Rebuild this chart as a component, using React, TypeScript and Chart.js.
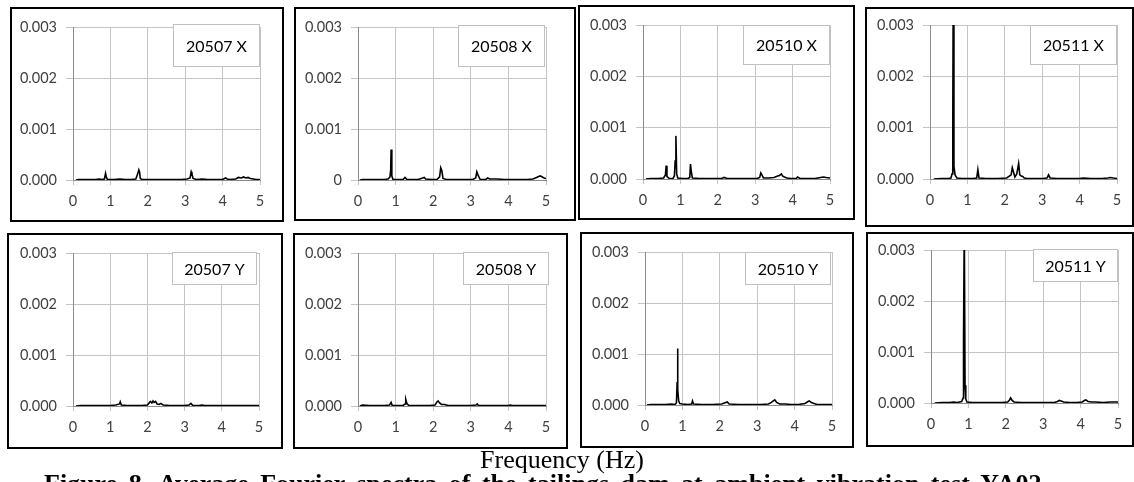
import { useEffect, useRef } from "react";
import { Chart, registerables } from "chart.js";

Chart.register(...registerables);

// ---------- axis ticks ----------
const xTickValues = [0, 1, 2, 3, 4, 5];
const xTickLabels = ["0", "1", "2", "3", "4", "5"];
// amplitudes are written in units of 1e-5 (so 100 = 0.001)
const yTickValues = [0, 100, 200, 300];
const yTickLabels = ["0.000", "0.001", "0.002", "0.003"];
const yTickLabelsAlt = ["0", "0.001", "0.002", "0.003"];

const panelLabels = ["20507 X", "20508 X", "20510 X", "20511 X", "20507 Y", "20508 Y", "20510 Y", "20511 Y"];

// ---------- spectra (frequency Hz, amplitude ×1e-5) ----------
const freq20507X = [0.08, 0.15, 0.3, 0.45, 0.6, 0.7, 0.78, 0.84, 0.87, 0.89, 0.92, 1.0, 1.1, 1.25, 1.4, 1.55, 1.68, 1.73, 1.76, 1.78, 1.8, 1.84, 1.95, 2.1, 2.3, 2.5, 2.7, 2.9, 3.05, 3.13, 3.16, 3.18, 3.21, 3.3, 3.45, 3.6, 3.8, 4.0, 4.08, 4.12, 4.2, 4.35, 4.42, 4.5, 4.56, 4.62, 4.68, 4.74, 4.82, 4.9, 5.0];
const amp20507X = [0, 1, 1, 1, 1, 2, 1, 2, 13, 6, 1, 1, 1, 2, 1, 1, 2, 12, 20, 16, 3, 1, 1, 1, 1, 1, 1, 1, 2, 4, 16, 12, 3, 1, 2, 1, 1, 1, 4, 2, 1, 2, 5, 4, 6, 4, 5, 3, 2, 1, 1];

const freq20508X = [0.05, 0.12, 0.3, 0.5, 0.7, 0.8, 0.85, 0.87, 0.88, 0.9, 0.93, 1.05, 1.2, 1.25, 1.3, 1.45, 1.6, 1.72, 1.76, 1.8, 1.95, 2.1, 2.17, 2.2, 2.23, 2.26, 2.35, 2.5, 2.7, 2.9, 3.05, 3.13, 3.16, 3.19, 3.25, 3.4, 3.45, 3.5, 3.7, 3.9, 4.1, 4.3, 4.5, 4.65, 4.75, 4.8, 4.85, 4.9, 4.95, 5.0];
const amp20508X = [0, 1, 1, 1, 1, 2, 6, 20, 60, 8, 1, 1, 1, 5, 1, 1, 1, 4, 5, 2, 1, 1, 6, 24, 18, 3, 1, 1, 1, 1, 1, 4, 16, 10, 1, 1, 4, 2, 2, 1, 1, 1, 1, 2, 5, 7, 8, 6, 4, 3];

const freq20510X = [0.08, 0.2, 0.4, 0.55, 0.6, 0.62, 0.64, 0.7, 0.8, 0.84, 0.86, 0.88, 0.9, 0.93, 1.05, 1.2, 1.25, 1.27, 1.29, 1.32, 1.5, 1.8, 2.1, 2.17, 2.25, 2.5, 2.8, 3.05, 3.12, 3.15, 3.18, 3.22, 3.35, 3.5, 3.6, 3.65, 3.7, 3.73, 3.78, 3.85, 3.95, 4.1, 4.13, 4.2, 4.4, 4.6, 4.75, 4.82, 4.9, 5.0];
const amp20510X = [0, 1, 1, 2, 8, 26, 5, 1, 1, 6, 35, 84, 10, 2, 1, 1, 3, 29, 15, 2, 1, 1, 1, 3, 1, 1, 1, 1, 3, 12, 8, 2, 2, 3, 6, 7, 10, 6, 4, 2, 1, 1, 4, 1, 1, 1, 3, 4, 3, 2];

const freq20511X = [0.1, 0.3, 0.5, 0.56, 0.59, 0.61, 0.62, 0.64, 0.67, 0.72, 0.85, 1.0, 1.15, 1.25, 1.28, 1.31, 1.5, 1.8, 2.05, 2.17, 2.2, 2.23, 2.27, 2.32, 2.35, 2.37, 2.4, 2.44, 2.48, 2.52, 2.6, 2.8, 3.0, 3.13, 3.17, 3.21, 3.4, 3.7, 4.0, 4.1, 4.3, 4.6, 4.75, 4.82, 4.9, 5.0];
const amp20511X = [0, 1, 1, 2, 10, 120, 350, 25, 8, 2, 1, 1, 1, 2, 18, 2, 1, 1, 2, 8, 22, 14, 4, 10, 22, 30, 8, 6, 5, 2, 1, 1, 1, 2, 8, 2, 1, 1, 1, 2, 1, 1, 2, 3, 2, 1];

const freq20507Y = [0.08, 0.2, 0.4, 0.6, 0.8, 1.0, 1.15, 1.25, 1.27, 1.3, 1.45, 1.65, 1.85, 2.0, 2.08, 2.12, 2.15, 2.18, 2.22, 2.26, 2.32, 2.36, 2.42, 2.6, 2.8, 3.0, 3.12, 3.17, 3.22, 3.4, 3.46, 3.55, 3.8, 4.0, 4.2, 4.4, 4.6, 4.8, 5.0];
const amp20507Y = [0, 1, 1, 1, 1, 1, 2, 4, 8, 2, 1, 1, 1, 2, 9, 6, 10, 7, 9, 4, 3, 5, 2, 1, 1, 1, 2, 5, 1, 1, 2, 1, 1, 1, 1, 1, 1, 1, 1];

const freq20508Y = [0.05, 0.12, 0.3, 0.5, 0.7, 0.84, 0.88, 0.91, 1.05, 1.2, 1.25, 1.27, 1.3, 1.35, 1.5, 1.7, 1.9, 2.05, 2.1, 2.13, 2.17, 2.22, 2.3, 2.4, 2.6, 2.8, 3.0, 3.14, 3.17, 3.2, 3.4, 3.6, 3.8, 4.0, 4.05, 4.1, 4.3, 4.5, 4.7, 5.0];
const amp20508Y = [0, 2, 1, 1, 1, 2, 7, 1, 1, 1, 4, 13, 5, 1, 1, 1, 1, 2, 8, 10, 6, 3, 3, 1, 1, 1, 1, 2, 4, 1, 1, 1, 1, 1, 2, 1, 1, 1, 1, 1];

const freq20510Y = [0.05, 0.15, 0.35, 0.55, 0.7, 0.8, 0.84, 0.86, 0.87, 0.88, 0.9, 0.93, 1.0, 1.15, 1.25, 1.27, 1.3, 1.5, 1.8, 2.05, 2.2, 2.25, 2.5, 2.8, 3.1, 3.3, 3.38, 3.43, 3.47, 3.52, 3.6, 3.75, 3.9, 4.1, 4.28, 4.34, 4.39, 4.45, 4.52, 4.6, 4.8, 5.0];
const amp20510Y = [0, 1, 1, 1, 2, 1, 4, 45, 111, 30, 8, 3, 2, 1, 2, 8, 2, 1, 1, 2, 6, 2, 1, 1, 1, 2, 5, 8, 10, 5, 2, 2, 1, 1, 3, 6, 8, 5, 3, 1, 1, 1];

const freq20511Y = [0.1, 0.3, 0.5, 0.6, 0.7, 0.82, 0.86, 0.87, 0.89, 0.91, 0.93, 0.96, 1.1, 1.3, 1.6, 1.9, 2.05, 2.1, 2.13, 2.17, 2.22, 2.4, 2.7, 3.0, 3.3, 3.38, 3.43, 3.48, 3.55, 3.7, 3.9, 4.05, 4.1, 4.14, 4.2, 4.3, 4.4, 4.6, 4.8, 4.9, 5.0];
const amp20511Y = [0, 1, 1, 2, 1, 3, 10, 130, 350, 35, 8, 2, 1, 1, 1, 1, 2, 6, 10, 5, 2, 1, 1, 1, 1, 3, 5, 4, 2, 1, 1, 2, 5, 6, 3, 2, 2, 1, 2, 2, 2];

const seriesFreq = [freq20507X, freq20508X, freq20510X, freq20511X, freq20507Y, freq20508Y, freq20510Y, freq20511Y];
const seriesAmp = [amp20507X, amp20508X, amp20510X, amp20511X, amp20507Y, amp20508Y, amp20510Y, amp20511Y];
const seriesYLabels = [yTickLabels, yTickLabelsAlt, yTickLabels, yTickLabels, yTickLabels, yTickLabels, yTickLabels, yTickLabels];

// ---------- layout (page pixels: left, top, right, bottom) ----------
const layouts = [
  { box: [10, 7, 284, 222], plot: [73, 27, 260, 180], tag: [173, 24, 260, 67] },
  { box: [294, 7, 576, 221], plot: [358, 27, 546, 180], tag: [458, 25, 545, 67] },
  { box: [578, 5, 855, 220], plot: [643, 25, 830, 179], tag: [743, 25, 830, 65] },
  { box: [865, 7, 1134, 227], plot: [930, 25, 1117, 179], tag: [1030, 25, 1117, 65] },
  { box: [7, 233, 283, 449], plot: [73, 253, 259, 406], tag: [172, 252, 257, 285] },
  { box: [293, 233, 568, 449], plot: [358, 253, 546, 406], tag: [463, 252, 549, 285] },
  { box: [580, 232, 854, 448], plot: [645, 252, 832, 405], tag: [745, 252, 831, 285] },
  { box: [866, 232, 1134, 447], plot: [931, 250, 1118, 403], tag: [1033, 249, 1118, 282] },
];

const TICK_FONT = { family: "Lato, 'Open Sans', sans-serif", size: 14.5 };
const TICK_COLOR = "#404040";
const GRID_COLOR = "#c4c4c4";

const labelBoxPlugin = {
  id: "labelBox",
  afterDraw(chart: any, _args: any, opts: any) {
    const ctx = chart.ctx;
    ctx.save();
    ctx.fillStyle = "#ffffff";
    ctx.fillRect(opts.x, opts.y, opts.w, opts.h);
    ctx.strokeStyle = "#c0c0c0";
    ctx.lineWidth = 1;
    ctx.strokeRect(opts.x + 0.5, opts.y + 0.5, opts.w - 1, opts.h - 1);
    ctx.fillStyle = "#000";
    ctx.font = "16px Lato, 'Open Sans', sans-serif";
    ctx.textAlign = "center";
    ctx.textBaseline = "middle";
    ctx.fillText(opts.text, opts.x + opts.w / 2, opts.y + opts.h / 2 + 1);
    ctx.restore();
  },
};

function Panel({ idx }: { idx: number }) {
  const ref = useRef<HTMLCanvasElement>(null);
  const L = layouts[idx];
  const [bl, bt, br, bb] = L.box;
  const [pl, pt, pr, pb] = L.plot;
  const [tl, tt, tr, tb] = L.tag;
  const bw = br - bl;
  const bh = bb - bt;

  useEffect(() => {
    if (!ref.current) return;
    const freq = seriesFreq[idx];
    const amp = seriesAmp[idx];
    const yLabels = seriesYLabels[idx];
    const chart = new Chart(ref.current, {
      type: "line",
      data: {
        datasets: [
          {
            data: freq.map((f, i) => ({ x: f, y: amp[i] })),
            borderColor: "#000",
            borderWidth: 1.6,
            pointRadius: 0,
            tension: 0,
            fill: false,
          },
        ],
      },
      options: {
        responsive: false,
        animation: false,
        devicePixelRatio: 1,
        events: [],
        layout: { padding: { left: 0, top: pt - bt, right: br - pr, bottom: 0 } },
        plugins: {
          legend: { display: false },
          tooltip: { enabled: false },
          labelBox: { text: panelLabels[idx], x: tl - bl, y: tt - bt, w: tr - tl, h: tb - tt },
        } as any,
        scales: {
          x: {
            type: "linear",
            min: 0,
            max: 5,
            afterBuildTicks: (s: any) => {
              s.ticks = xTickValues.map((v) => ({ value: v }));
            },
            afterFit: (s: any) => {
              s.height = bb - pb;
            },
            grid: { color: GRID_COLOR, tickLength: 5, lineWidth: 1 },
            border: { color: "#8c8c8c", width: 1 },
            ticks: {
              font: TICK_FONT,
              color: TICK_COLOR,
              padding: 8,
              maxRotation: 0,
              callback: (v: any) => xTickLabels[xTickValues.indexOf(Number(v))] ?? "",
            },
          },
          y: {
            type: "linear",
            min: 0,
            max: 300,
            afterBuildTicks: (s: any) => {
              s.ticks = yTickValues.map((v) => ({ value: v }));
            },
            afterFit: (s: any) => {
              s.width = pl - bl;
            },
            grid: { color: GRID_COLOR, tickLength: 7, lineWidth: 1 },
            border: { color: "#8c8c8c", width: 1 },
            ticks: {
              font: TICK_FONT,
              color: TICK_COLOR,
              padding: 9,
              callback: (v: any) => yLabels[yTickValues.indexOf(Number(v))] ?? "",
            },
          },
        },
      },
      plugins: [labelBoxPlugin],
    } as any);
    return () => chart.destroy();
  }, [idx]);

  return (
    <>
      <canvas
        ref={ref}
        width={bw}
        height={bh}
        style={{ position: "absolute", left: bl, top: bt, width: bw, height: bh }}
      />
      <div
        style={{
          position: "absolute",
          left: bl,
          top: bt,
          width: bw,
          height: bh,
          border: "2px solid #000",
          boxSizing: "border-box",
          pointerEvents: "none",
        }}
      />
    </>
  );
}

export default function App() {
  return (
    <div
      style={{
        position: "absolute",
        left: 0,
        top: 0,
        width: 1134,
        height: 482,
        overflow: "hidden",
        background: "#fff",
      }}
    >
      {layouts.map((_, i) => (
        <Panel key={i} idx={i} />
      ))}
      <div
        style={{
          position: "absolute",
          left: 0,
          top: 447,
          width: 1124,
          textAlign: "center",
          fontFamily: "'Liberation Serif', 'Times New Roman', serif",
          fontSize: 26,
          lineHeight: "26px",
          color: "#000",
          whiteSpace: "nowrap",
        }}
      >
        Frequency (Hz)
      </div>
      <div
        style={{
          position: "absolute",
          left: 44,
          top: 471,
          fontFamily: "'Liberation Serif', 'Times New Roman', serif",
          fontWeight: "bold",
          fontSize: 26,
          lineHeight: "26px",
          color: "#000",
          whiteSpace: "nowrap",
          wordSpacing: 5,
        }}
      >
        Figure 8. Average Fourier spectra of the tailings dam at ambient vibration test YA02
      </div>
    </div>
  );
}
